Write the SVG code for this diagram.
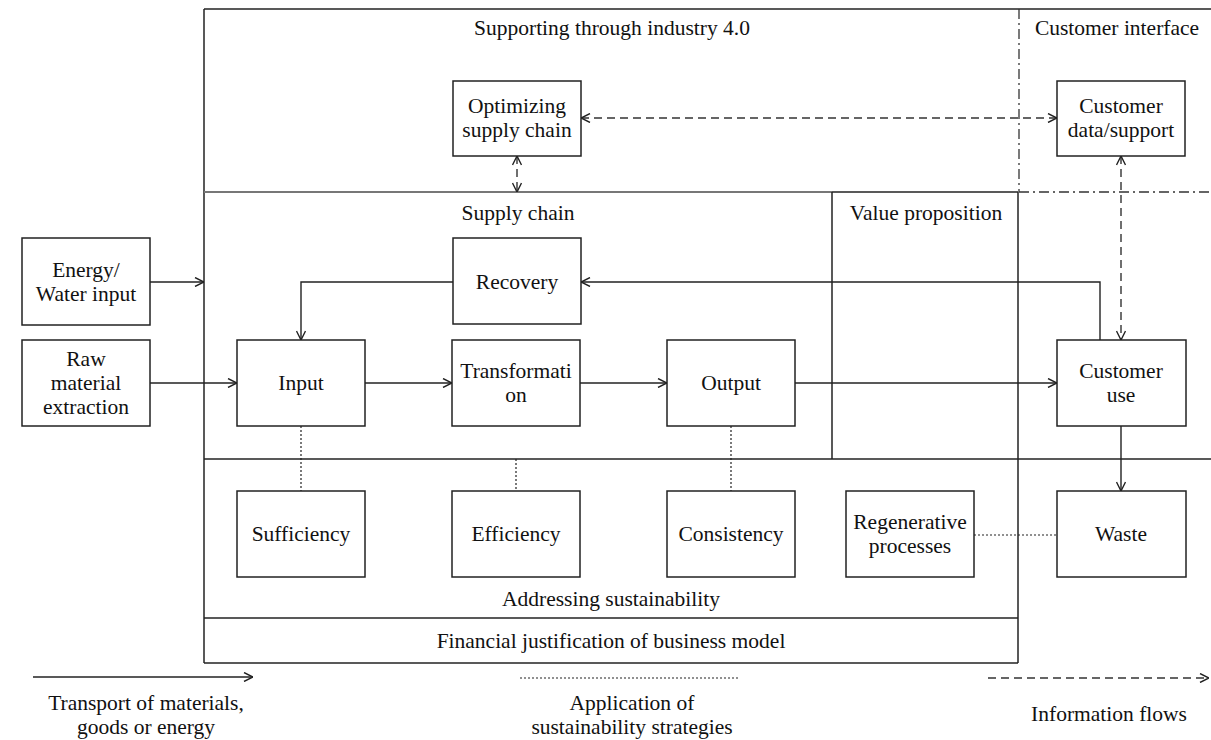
<svg xmlns="http://www.w3.org/2000/svg" width="1211" height="740" viewBox="0 0 1211 740">
<style>
text{font-family:"Liberation Serif","Times New Roman",serif;font-size:21.5px;fill:#111;text-anchor:middle}
.box{fill:#fff;stroke:#222;stroke-width:1.5}
.frame{fill:none;stroke:#222;stroke-width:1.5}
.ln{fill:none;stroke:#222;stroke-width:1.4}
.dash{fill:none;stroke:#333;stroke-width:1.4;stroke-dasharray:8,5}
.dot{fill:none;stroke:#222;stroke-width:1.2;stroke-dasharray:2,2}
.dd{fill:none;stroke:#333;stroke-width:1.3;stroke-dasharray:10,4,2,4}
</style>
<defs>
<marker id="ah" viewBox="0 0 10 10" refX="10" refY="5" markerWidth="10" markerHeight="10" markerUnits="userSpaceOnUse" orient="auto-start-reverse">
<path d="M1,0.5 L10,5 L1,9.5" fill="none" stroke="#222" stroke-width="1.4"/>
</marker>
</defs>
<g id="frames">
<line class="frame" x1="204" y1="9" x2="1211" y2="9"/>
<line class="frame" x1="204" y1="9" x2="204" y2="663"/>
<line class="frame" x1="1018" y1="192" x2="1018" y2="663"/>
<line class="dd" x1="1019" y1="9" x2="1019" y2="192"/>
<line class="dd" x1="1019" y1="192" x2="1211" y2="192"/>
<line x1="204" y1="192" x2="832" y2="192" stroke="#777" stroke-width="2"/>
<line class="frame" x1="832" y1="192" x2="1018" y2="192"/>
<line class="frame" x1="832" y1="192" x2="832" y2="459"/>
<line class="frame" x1="204" y1="459" x2="1211" y2="459"/>
<line class="frame" x1="204" y1="618" x2="1018" y2="618"/>
<line class="frame" x1="204" y1="663" x2="1018" y2="663"/>
<text x="612" y="35">Supporting through industry 4.0</text>
<text x="1117" y="35">Customer interface</text>
<text x="518" y="220">Supply chain</text>
<text x="926" y="220">Value proposition</text>
<text x="611" y="606">Addressing sustainability</text>
<text x="611" y="648">Financial justification of business model</text>
</g>
<g id="connectors">
<line class="dash" x1="581" y1="118" x2="1057" y2="118" marker-start="url(#ah)" marker-end="url(#ah)"/>
<line class="dash" x1="517" y1="156" x2="517" y2="192" marker-start="url(#ah)" marker-end="url(#ah)"/>
<line class="dash" x1="1121" y1="156" x2="1121" y2="340" marker-start="url(#ah)" marker-end="url(#ah)"/>
<line class="ln" x1="150" y1="282" x2="204" y2="282" marker-end="url(#ah)"/>
<line class="ln" x1="150" y1="383" x2="237" y2="383" marker-end="url(#ah)"/>
<line class="ln" x1="365" y1="383" x2="452" y2="383" marker-end="url(#ah)"/>
<line class="ln" x1="580" y1="383" x2="667" y2="383" marker-end="url(#ah)"/>
<line class="ln" x1="795" y1="383" x2="1057" y2="383" marker-end="url(#ah)"/>
<polyline class="ln" points="1100,340 1100,282 581,282" marker-end="url(#ah)"/>
<polyline class="ln" points="453,282 301,282 301,340" marker-end="url(#ah)"/>
<line class="ln" x1="1121" y1="426" x2="1121" y2="491" marker-end="url(#ah)"/>
<line class="dot" x1="301" y1="426" x2="301" y2="491"/>
<line class="dot" x1="516" y1="459" x2="516" y2="491"/>
<line class="dot" x1="731" y1="426" x2="731" y2="491"/>
<line class="dot" x1="974" y1="535" x2="1057" y2="535"/>
</g>
<g id="optimizing"><rect class="box" x="453" y="81" width="128" height="75"/><text x="517" y="113">Optimizing</text><text x="517" y="137">supply chain</text></g>
<g id="customer-data"><rect class="box" x="1057" y="81" width="128" height="75"/><text x="1121" y="113">Customer</text><text x="1121" y="137">data/support</text></g>
<g id="energy"><rect class="box" x="22" y="238" width="128" height="87"/><text x="86" y="277">Energy/</text><text x="86" y="301">Water input</text></g>
<g id="raw"><rect class="box" x="22" y="340" width="128" height="86"/><text x="86" y="366">Raw</text><text x="86" y="390">material</text><text x="86" y="414">extraction</text></g>
<g id="recovery"><rect class="box" x="453" y="238" width="128" height="86"/><text x="517" y="289">Recovery</text></g>
<g id="input"><rect class="box" x="237" y="340" width="128" height="86"/><text x="301" y="390">Input</text></g>
<g id="transformation"><rect class="box" x="452" y="340" width="128" height="86"/><text x="516" y="378">Transformati</text><text x="516" y="402">on</text></g>
<g id="output"><rect class="box" x="667" y="340" width="128" height="86"/><text x="731" y="390">Output</text></g>
<g id="customer-use"><rect class="box" x="1057" y="340" width="129" height="86"/><text x="1121" y="378">Customer</text><text x="1121" y="402">use</text></g>
<g id="sufficiency"><rect class="box" x="237" y="491" width="128" height="86"/><text x="301" y="541">Sufficiency</text></g>
<g id="efficiency"><rect class="box" x="452" y="491" width="128" height="86"/><text x="516" y="541">Efficiency</text></g>
<g id="consistency"><rect class="box" x="667" y="491" width="128" height="86"/><text x="731" y="541">Consistency</text></g>
<g id="regenerative"><rect class="box" x="846" y="491" width="128" height="86"/><text x="910" y="529">Regenerative</text><text x="910" y="553">processes</text></g>
<g id="waste"><rect class="box" x="1057" y="491" width="129" height="86"/><text x="1121" y="541">Waste</text></g>
<g id="legend">
<line class="ln" x1="33" y1="677" x2="253" y2="677" marker-end="url(#ah)" stroke="#555"/>
<line class="dot" x1="520" y1="678" x2="740" y2="678"/>
<line class="dash" x1="988" y1="678" x2="1209" y2="678" marker-end="url(#ah)"/>
<text x="146" y="710">Transport of materials,</text>
<text x="146" y="734">goods or energy</text>
<text x="632" y="710">Application of</text>
<text x="632" y="734">sustainability strategies</text>
<text x="1109" y="721">Information flows</text>
</g>
</svg>
